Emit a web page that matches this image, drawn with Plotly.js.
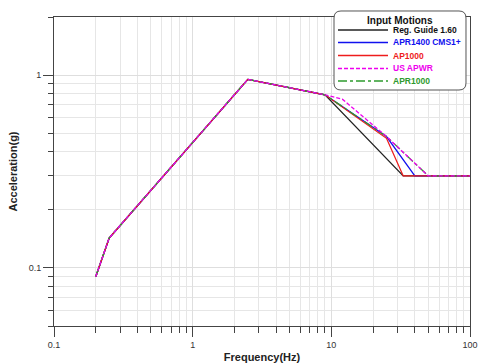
<!DOCTYPE html>
<html>
<head>
<meta charset="utf-8">
<script src="https://cdn.plot.ly/plotly-3.0.1.min.js"></script>
<style>html,body{margin:0;padding:0;background:#fff;}#chart{width:478px;height:363px;}</style>
</head>
<body>
<div id="chart"></div>
<script>
// ---- data ----
var seriesNames = ["Reg. Guide 1.60", "APR1400 CMS1+", "AP1000", "US APWR", "APR1000"];
var freqRG = [0.2, 0.25, 2.5, 9, 33, 100];
var accRG  = [0.09, 0.143, 0.95, 0.79, 0.3, 0.3];
var freqAPR1400 = [0.2, 0.25, 2.5, 9, 25, 40, 100];
var accAPR1400  = [0.09, 0.143, 0.95, 0.79, 0.48, 0.3, 0.3];
var freqAP1000 = [0.2, 0.25, 2.5, 9, 25, 33, 100];
var accAP1000  = [0.09, 0.143, 0.95, 0.79, 0.47, 0.3, 0.3];
var freqUSAPWR = [0.2, 0.25, 2.5, 9, 12, 25, 50, 100];
var accUSAPWR  = [0.09, 0.143, 0.95, 0.79, 0.75, 0.48, 0.3, 0.3];
var freqAPR1000 = [0.2, 0.25, 2.5, 9, 25, 50, 100];
var accAPR1000  = [0.09, 0.143, 0.95, 0.79, 0.48, 0.3, 0.3];
var legendTitle = "Input Motions";
var xTitle = "Frequency(Hz)";
var yTitle = "Acceleration(g)";

// ---- styles ----
var colors = ["#222222", "#1010ee", "#ee1c1c", "#ee00ee", "#2e9a2e"];
var dashes = ["solid", "solid", "solid", "4px,2px", "dashdot"];
var seriesX = [freqRG, freqAPR1400, freqAP1000, freqUSAPWR, freqAPR1000];
var seriesY = [accRG, accAPR1400, accAP1000, accUSAPWR, accAPR1000];
var drawOrder = [0, 1, 2, 4, 3];

var traces = drawOrder.map(function (i) {
  return {
    x: seriesX[i], y: seriesY[i], type: "scatter", mode: "lines", name: seriesNames[i],
    line: {color: colors[i], width: 1.3, dash: dashes[i]}, showlegend: false
  };
});

// plot area in pixels: left 54, right 470, top 17, bottom 326
var L = 54, R = 470, T = 17, B = 326;
function px(x) { return (x - L) / (R - L); }
function py(y) { return (B - y) / (B - T); }

// custom legend box
var bx0 = 334, bx1 = 466, by0 = 11, by1 = 90, rr = 7;
function P(x, y) { return px(x).toFixed(5) + "," + py(y).toFixed(5); }
var path = "M" + P(bx0 + rr, by0) + " L" + P(bx1 - rr, by0) +
  " Q" + P(bx1, by0) + " " + P(bx1, by0 + rr) +
  " L" + P(bx1, by1 - rr) + " Q" + P(bx1, by1) + " " + P(bx1 - rr, by1) +
  " L" + P(bx0 + rr, by1) + " Q" + P(bx0, by1) + " " + P(bx0, by1 - rr) +
  " L" + P(bx0, by0 + rr) + " Q" + P(bx0, by0) + " " + P(bx0 + rr, by0) + " Z";

var shapes = [{type: "path", xref: "paper", yref: "paper", path: path,
  fillcolor: "#ffffff", line: {color: "#555555", width: 1}, layer: "above"}];
var annotations = [{xref: "paper", yref: "paper", x: px(400), y: py(21), text: "<b>" + legendTitle + "</b>",
  showarrow: false, xanchor: "center", yanchor: "middle",
  font: {family: "Liberation Sans, Arial, sans-serif", size: 10, color: "#111"}}];
var rowsY = [30, 42.5, 55.5, 68.5, 81];
for (var j = 0; j < seriesNames.length; j++) {
  shapes.push({type: "line", xref: "paper", yref: "paper", x0: px(338), x1: px(388), y0: py(rowsY[j]), y1: py(rowsY[j]),
    line: {color: colors[j], width: 1.3, dash: dashes[j]}, layer: "above"});
  annotations.push({xref: "paper", yref: "paper", x: px(391), y: py(rowsY[j]), text: "<b>" + seriesNames[j] + "</b>",
    showarrow: false, xanchor: "left", yanchor: "middle",
    font: {family: "Liberation Sans, Arial, sans-serif", size: 8.5, color: j === 0 ? "#111" : colors[j]}});
}

var axisCommon = {
  type: "log", showline: true, linecolor: "#444", linewidth: 1, mirror: true,
  ticks: "outside", tickcolor: "#444", ticklen: 10, tickwidth: 1, dtick: 1,
  showgrid: true, gridcolor: "#dedede", gridwidth: 1, zeroline: false,
  tickfont: {family: "Liberation Sans, Arial, sans-serif", size: 9, color: "#333"},
  minor: {ticks: "outside", ticklen: 6, tickcolor: "#444", dtick: "D1", showgrid: true, gridcolor: "#e6e6e6", gridwidth: 1}
};

var layout = {
  width: 478, height: 363,
  margin: {l: L, r: 478 - R, t: T, b: 363 - B},
  paper_bgcolor: "#ffffff", plot_bgcolor: "#ffffff",
  showlegend: false,
  xaxis: Object.assign({}, axisCommon, {
    range: [-1, 2],
    title: {text: "<b>" + xTitle + "</b>", standoff: 4,
      font: {family: "Liberation Sans, Arial, sans-serif", size: 11, color: "#222"}}
  }),
  yaxis: Object.assign({}, axisCommon, {
    range: [Math.log10(0.05), Math.log10(2)],
    minor: Object.assign({}, axisCommon.minor, {ticklen: 5}),
    title: {text: "<b>" + yTitle + "</b>", standoff: 8,
      font: {family: "Liberation Sans, Arial, sans-serif", size: 11, color: "#222"}}
  }),
  shapes: shapes,
  annotations: annotations
};

Plotly.newPlot("chart", traces, layout, {displayModeBar: false, staticPlot: true});
</script>
</body>
</html>
